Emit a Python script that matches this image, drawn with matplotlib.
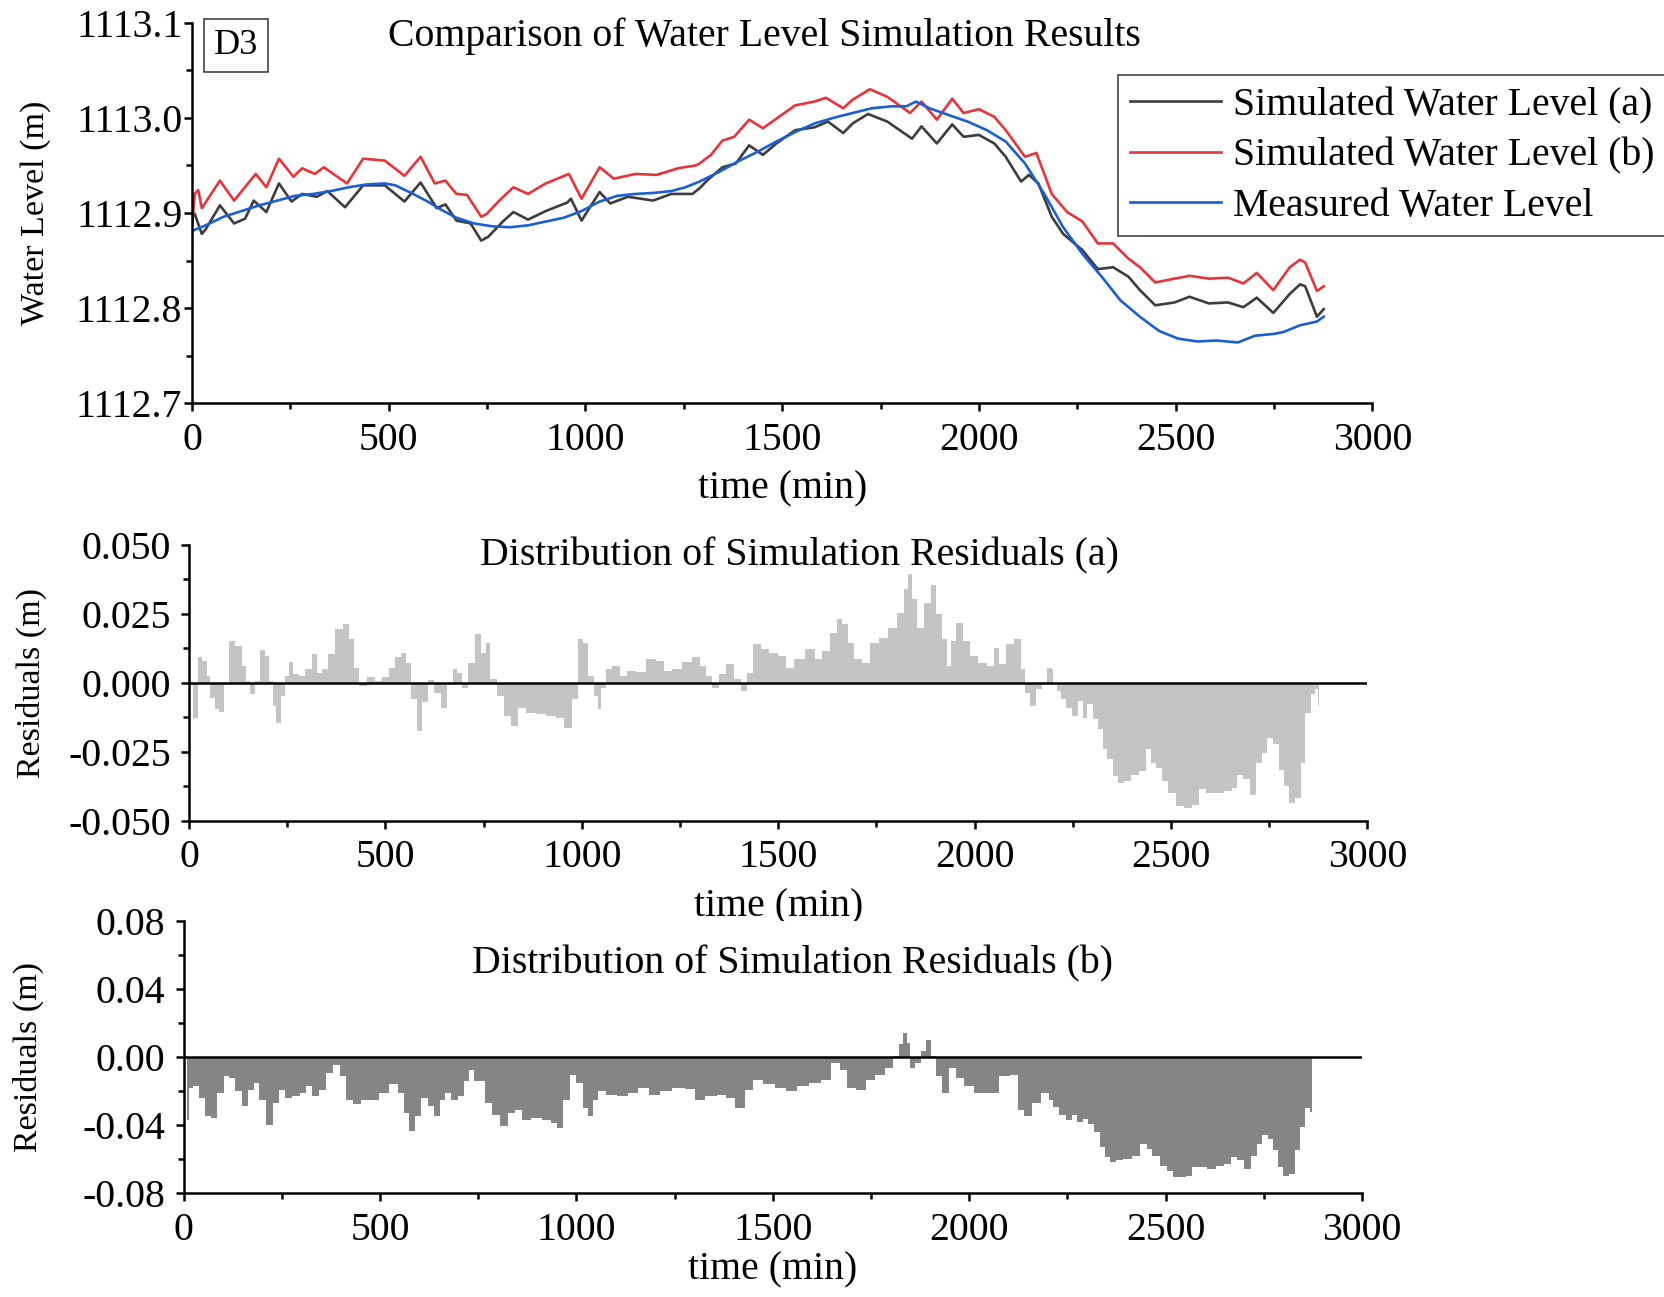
import numpy as np
import matplotlib
matplotlib.use('Agg')
import matplotlib.pyplot as plt
from matplotlib.ticker import MultipleLocator, FormatStrFormatter

plt.rcParams['font.family'] = ['Liberation Serif', 'DejaVu Serif']
plt.rcParams['font.size'] = 28.6
plt.rcParams['axes.unicode_minus'] = False

# ---- water level data ----
t_meas = [0, 35, 80, 126, 171, 217, 262, 308, 353, 399, 444, 490, 517, 562, 599, 635, 672, 717,
          763, 808, 854, 899, 945, 990, 1036, 1081, 1127, 1172, 1218, 1254, 1290, 1339, 1387,
          1436, 1485, 1533, 1582, 1631, 1679, 1728, 1777, 1815, 1840, 1874, 1922, 1971, 2020,
          2068, 2117, 2166, 2214, 2263, 2312, 2360, 2409, 2458, 2506, 2555, 2604, 2658, 2701,
          2750, 2774, 2816, 2859, 2876]
h_meas = [1112.881, 1112.887, 1112.896, 1112.902, 1112.908, 1112.913, 1112.918, 1112.920,
          1112.923, 1112.927, 1112.930, 1112.931, 1112.929, 1112.920, 1112.912, 1112.903,
          1112.895, 1112.889, 1112.886, 1112.885, 1112.887, 1112.891, 1112.895, 1112.902,
          1112.912, 1112.918, 1112.920, 1112.921, 1112.923, 1112.927, 1112.933, 1112.943,
          1112.954, 1112.964, 1112.975, 1112.985, 1112.994, 1113.000, 1113.005, 1113.010,
          1113.012, 1113.012, 1113.017, 1113.010, 1113.003, 1112.996, 1112.987, 1112.975,
          1112.952, 1112.920, 1112.885, 1112.857, 1112.833, 1112.808, 1112.791, 1112.776,
          1112.768, 1112.765, 1112.766, 1112.764, 1112.771, 1112.773, 1112.775, 1112.782,
          1112.786, 1112.791]

t_sim_a = [0, 7, 25, 35, 71, 107, 135, 157, 189, 221, 253, 280, 317, 344, 389, 435, 490, 540,
           581, 622, 644, 672, 708, 735, 753, 790, 817, 854, 899, 954, 963, 990, 1036, 1063,
           1108, 1172, 1218, 1272, 1290, 1309, 1348, 1382, 1416, 1451, 1485, 1533, 1582, 1616,
           1655, 1679, 1718, 1767, 1830, 1854, 1893, 1932, 1961, 2000, 2039, 2068, 2107, 2127,
           2151, 2185, 2214, 2263, 2302, 2341, 2380, 2409, 2448, 2497, 2535, 2584, 2633, 2672,
           2706, 2748, 2790, 2816, 2829, 2859, 2876]
h_sim_a = [1112.895, 1112.899, 1112.878, 1112.883, 1112.908, 1112.889, 1112.894, 1112.913,
           1112.901, 1112.931, 1112.912, 1112.920, 1112.917, 1112.923, 1112.906, 1112.929,
           1112.929, 1112.912, 1112.932, 1112.905, 1112.909, 1112.892, 1112.889, 1112.871,
           1112.875, 1112.891, 1112.901, 1112.893, 1112.902, 1112.911, 1112.915, 1112.892,
           1112.922, 1112.910, 1112.917, 1112.913, 1112.920, 1112.920, 1112.926, 1112.934,
           1112.948, 1112.952, 1112.971, 1112.961, 1112.973, 1112.987, 1112.990, 1112.996,
           1112.984, 1112.994, 1113.004, 1112.996, 1112.978, 1112.991, 1112.973, 1112.993,
           1112.980, 1112.982, 1112.973, 1112.959, 1112.933, 1112.940, 1112.931, 1112.896,
           1112.878, 1112.861, 1112.841, 1112.843, 1112.833, 1112.819, 1112.803, 1112.806,
           1112.812, 1112.805, 1112.806, 1112.801, 1112.811, 1112.795, 1112.815, 1112.825,
           1112.823, 1112.791, 1112.799]

t_sim_b = [0, 7, 16, 25, 71, 107, 162, 189, 221, 258, 280, 312, 335, 394, 435, 490, 540, 581,
           617, 644, 672, 699, 735, 749, 781, 817, 854, 899, 958, 990, 1036, 1072, 1127, 1181,
           1236, 1281, 1290, 1319, 1348, 1378, 1416, 1451, 1485, 1533, 1582, 1611, 1655, 1679,
           1723, 1767, 1825, 1854, 1893, 1932, 1961, 2000, 2039, 2068, 2117, 2146, 2185, 2224,
           2263, 2302, 2341, 2380, 2409, 2448, 2497, 2535, 2584, 2633, 2672, 2706, 2748, 2790,
           2816, 2829, 2859, 2876]
h_sim_b = [1112.885, 1112.920, 1112.924, 1112.905, 1112.934, 1112.913, 1112.941, 1112.927,
           1112.957, 1112.938, 1112.947, 1112.941, 1112.948, 1112.931, 1112.957, 1112.955,
           1112.939, 1112.959, 1112.931, 1112.934, 1112.920, 1112.919, 1112.896, 1112.899,
           1112.913, 1112.927, 1112.920, 1112.931, 1112.941, 1112.915, 1112.948, 1112.936,
           1112.941, 1112.940, 1112.947, 1112.950, 1112.952, 1112.961, 1112.976, 1112.980,
           1112.998, 1112.989, 1112.999, 1113.013, 1113.017, 1113.021, 1113.010, 1113.019,
           1113.030, 1113.022, 1113.005, 1113.017, 1112.998, 1113.020, 1113.005, 1113.009,
           1113.001, 1112.987, 1112.959, 1112.963, 1112.920, 1112.901, 1112.891, 1112.868,
           1112.868, 1112.852, 1112.843, 1112.827, 1112.831, 1112.834, 1112.831, 1112.832,
           1112.826, 1112.837, 1112.819, 1112.843, 1112.851, 1112.848, 1112.818, 1112.823]

# ---- residuals (a) ----
t_res_a = [9, 18, 27, 41, 50, 59, 73, 82, 96, 109, 127, 141, 150, 161, 173, 188, 200, 209, 218,
           226, 241, 250, 259, 273, 287, 305, 319, 332, 346, 364, 382, 400, 414, 425, 441, 464,
           482, 500, 519, 532, 546, 560, 573, 587, 601, 614, 632, 651, 664, 678, 687, 701, 719,
           737, 751, 760, 774, 792, 810, 828, 846, 869, 896, 923, 946, 965, 983, 996, 1010,
           1024, 1037, 1044, 1056, 1069, 1087, 1106, 1124, 1151, 1178, 1201, 1219, 1242, 1269,
           1292, 1310, 1324, 1339, 1359, 1378, 1398, 1412, 1427, 1446, 1466, 1490, 1510, 1529,
           1554, 1583, 1603, 1622, 1642, 1656, 1671, 1686, 1700, 1725, 1744, 1768, 1793, 1812,
           1827, 1835, 1847, 1861, 1881, 1895, 1910, 1925, 1934, 1944, 1962, 1978, 1998, 2022,
           2042, 2056, 2071, 2091, 2110, 2125, 2134, 2147, 2164, 2178, 2190, 2197, 2205, 2214,
           2226, 2239, 2256, 2273, 2281, 2294, 2307, 2324, 2332, 2345, 2358, 2371, 2388, 2409,
           2430, 2445, 2456, 2468, 2485, 2502, 2523, 2544, 2565, 2578, 2599, 2625, 2646, 2663,
           2675, 2692, 2709, 2726, 2739, 2752, 2769, 2781, 2794, 2807, 2824, 2836, 2849, 2862,
           2870, 2877]
r_a = [-0.0133, -0.0127, 0.0091, 0.0079, 0.0024, -0.0054, -0.0097, -0.0106, 0.0, 0.0151,
       0.0133, 0.0060, 0.0006, -0.0042, 0.0006, 0.0118, 0.0097, 0.0006, -0.0085, -0.0145,
       -0.0048, 0.0024, 0.0075, 0.0030, 0.0024, 0.0048, 0.0103, 0.0036, 0.0048, 0.0103,
       0.0193, 0.0211, 0.0157, 0.0054, -0.0014, 0.0022, 0.0006, 0.0022, 0.0054, 0.0091,
       0.0106, 0.0072, -0.0060, -0.0175, -0.0072, 0.0010, -0.0036, -0.0091, -0.0006, 0.0048,
       0.0036, -0.0018, 0.0072, 0.0175, 0.0109, 0.0145, 0.0012, -0.0048, -0.0121, -0.0157,
       -0.0091, -0.0109, -0.0115, -0.0121, -0.0127, -0.0163, -0.0060, 0.0157, 0.0145, 0.0024,
       -0.0048, -0.0097, -0.0018, 0.0048, 0.0060, 0.0024, 0.0042, 0.0039, 0.0085, 0.0079,
       0.0042, 0.0048, 0.0075, 0.0091, 0.0060, 0.0024, -0.0018, 0.0030, 0.0066, 0.0012,
       -0.0030, 0.0036, 0.0139, 0.0121, 0.0109, 0.0097, 0.0054, 0.0085, 0.0121, 0.0085,
       0.0115, 0.0181, 0.0229, 0.0211, 0.0145, 0.0085, 0.0072, 0.0145, 0.0163, 0.0199,
       0.0254, 0.0338, 0.0393, 0.0302, 0.0199, 0.0290, 0.0353, 0.0248, 0.0157, 0.0060,
       0.0151, 0.0215, 0.0151, 0.0097, 0.0072, 0.0060, 0.0127, 0.0066, 0.0139, 0.0157,
       0.0048, -0.0036, -0.0085, -0.0024, -0.0006, 0.0054, 0.0048, 0.0, -0.0030, -0.0061,
       -0.0091, -0.0121, -0.0067, -0.0127, -0.0079, -0.0133, -0.0169, -0.0242, -0.0278,
       -0.0339, -0.0363, -0.0357, -0.0333, -0.0321, -0.0242, -0.0291, -0.0309, -0.0357,
       -0.0400, -0.0448, -0.0454, -0.0442, -0.0387, -0.0400, -0.0400, -0.0393, -0.0381,
       -0.0333, -0.0351, -0.0406, -0.0291, -0.0254, -0.0200, -0.0224, -0.0315, -0.0375,
       -0.0436, -0.0418, -0.0291, -0.0109, -0.0042, -0.0024, -0.0085]

# ---- residuals (b) ----
t_res_b = [9, 18, 32, 45, 64, 77, 95, 109, 123, 141, 156, 173, 186, 200, 218, 236, 250, 268,
           286, 304, 318, 336, 354, 372, 390, 404, 422, 440, 463, 486, 509, 536, 554, 568, 581,
           595, 613, 631, 645, 658, 672, 690, 708, 722, 732, 745, 758, 776, 795, 817, 835, 853,
           872, 899, 926, 944, 958, 976, 990, 1008, 1026, 1035, 1049, 1062, 1090, 1117, 1144,
           1171, 1199, 1226, 1262, 1289, 1314, 1343, 1372, 1392, 1416, 1441, 1460, 1490, 1519,
           1548, 1577, 1607, 1636, 1660, 1680, 1699, 1724, 1748, 1772, 1797, 1816, 1826, 1836,
           1845, 1855, 1870, 1884, 1896, 1907, 1923, 1938, 1958, 1977, 1997, 2026, 2060, 2094,
           2114, 2133, 2148, 2172, 2196, 2208, 2220, 2237, 2254, 2267, 2280, 2297, 2309, 2326,
           2339, 2352, 2364, 2381, 2403, 2424, 2445, 2458, 2475, 2496, 2513, 2526, 2543, 2560,
           2572, 2593, 2619, 2640, 2657, 2674, 2691, 2708, 2725, 2738, 2753, 2767, 2780, 2793,
           2805, 2822, 2835, 2848, 2861, 2873]
r_b = [-0.0367, -0.0180, -0.0171, -0.0239, -0.0347, -0.0357, -0.0210, -0.0112, -0.0122,
       -0.0200, -0.0288, -0.0190, -0.0151, -0.0249, -0.0396, -0.0269, -0.0190, -0.0239,
       -0.0229, -0.0210, -0.0171, -0.0229, -0.0190, -0.0092, -0.0043, -0.0112, -0.0249,
       -0.0273, -0.0249, -0.0253, -0.0210, -0.0155, -0.0210, -0.0327, -0.0435, -0.0347,
       -0.0239, -0.0288, -0.0347, -0.0249, -0.0210, -0.0249, -0.0229, -0.0141, -0.0073,
       -0.0141, -0.0141, -0.0269, -0.0337, -0.0406, -0.0327, -0.0308, -0.0367, -0.0357,
       -0.0367, -0.0386, -0.0416, -0.0249, -0.0102, -0.0151, -0.0298, -0.0347, -0.0249,
       -0.0200, -0.0220, -0.0225, -0.0210, -0.0180, -0.0220, -0.0200, -0.0180, -0.0186,
       -0.0249, -0.0229, -0.0220, -0.0239, -0.0298, -0.0190, -0.0131, -0.0155, -0.0180,
       -0.0200, -0.0171, -0.0151, -0.0131, -0.0033, -0.0073, -0.0180, -0.0190, -0.0131,
       -0.0102, -0.0063, 0.0006, 0.0075, 0.0143, 0.0084, -0.0063, -0.0033, 0.0035, 0.0104,
       0.0006, -0.0112, -0.0210, -0.0063, -0.0122, -0.0171, -0.0210, -0.0210, -0.0112,
       -0.0102, -0.0308, -0.0347, -0.0269, -0.0210, -0.0251, -0.0290, -0.0340, -0.0369,
       -0.0340, -0.0379, -0.0360, -0.0389, -0.0439, -0.0527, -0.0587, -0.0616, -0.0606,
       -0.0597, -0.0577, -0.0508, -0.0537, -0.0577, -0.0636, -0.0666, -0.0705, -0.0705,
       -0.0695, -0.0646, -0.0646, -0.0656, -0.0636, -0.0626, -0.0587, -0.0606, -0.0656,
       -0.0577, -0.0508, -0.0458, -0.0478, -0.0547, -0.0646, -0.0695, -0.0685, -0.0547,
       -0.0409, -0.0300, -0.0320]

fig = plt.figure(figsize=(16.65, 12.97), dpi=100)
YLAB = 24.5


def style_axis(ax, ypad):
    for s in ['top', 'right']:
        ax.spines[s].set_visible(False)
    for s in ['left', 'bottom']:
        ax.spines[s].set_linewidth(1.8)
    ax.tick_params(which='major', direction='out', length=6, width=1.8)
    ax.tick_params(which='minor', direction='out', length=4, width=1.8)
    ax.tick_params(axis='x', which='major', pad=7.5)
    ax.tick_params(axis='y', which='major', pad=ypad)
    ax.set_xlim(0, 3000)
    ax.xaxis.set_major_locator(MultipleLocator(500))
    ax.xaxis.set_minor_locator(MultipleLocator(250))


# top panel: water levels
ax1 = fig.add_axes([0.1153, 0.689, 0.709, 0.2936])
style_axis(ax1, 1)
ax1.plot(t_sim_a, h_sim_a, color='#3d3d3d', lw=1.9, label='Simulated Water Level (a)')
ax1.plot(t_sim_b, h_sim_b, color='#e5343a', lw=1.9, label='Simulated Water Level (b)')
ax1.plot(t_meas, h_meas, color='#1b5fd3', lw=1.9, label='Measured Water Level')
ax1.set_ylim(1112.7, 1113.1)
ax1.yaxis.set_major_locator(MultipleLocator(0.1))
ax1.yaxis.set_minor_locator(MultipleLocator(0.05))
ax1.yaxis.set_major_formatter(FormatStrFormatter('%.1f'))
ax1.set_xlabel('time (min)')
ax1.xaxis.set_label_coords(0.5, -0.177)
ax1.set_ylabel('Water Level (m)', fontsize=YLAB)
ax1.yaxis.set_label_coords(-0.119, 0.5)
ax1.text(0.4845, 0.965, 'Comparison of Water Level Simulation Results',
         transform=ax1.transAxes, ha='center', va='center')
ax1.text(0.0375, 0.94, 'D3', transform=ax1.transAxes, ha='center', va='center',
         fontsize=26, bbox=dict(boxstyle='square,pad=0.27', fc='white', ec='#333333', lw=1.1))
leg = fig.legend(loc='upper left', bbox_to_anchor=(0.6715, 0.942),
                 bbox_transform=fig.transFigure, borderaxespad=0, frameon=True,
                 fancybox=False, edgecolor='#333333', handlelength=2.3, handletextpad=0.3,
                 labelspacing=0.33, borderpad=0.3, framealpha=1)
leg.get_frame().set_linewidth(1.1)

# middle panel: residuals (a)
ax2 = fig.add_axes([0.1135, 0.3673, 0.7077, 0.2128])
style_axis(ax2, 7)
ax2.fill_between(t_res_a, r_a, 0, step='mid', color='#c4c4c4', lw=0)
ax2.axhline(0, color='black', lw=1.8)
ax2.set_ylim(-0.05, 0.05)
ax2.yaxis.set_major_locator(MultipleLocator(0.025))
ax2.yaxis.set_minor_locator(MultipleLocator(0.0125))
ax2.yaxis.set_major_formatter(FormatStrFormatter('%.3f'))
ax2.set_xlabel('time (min)')
ax2.xaxis.set_label_coords(0.5, -0.246)
ax2.set_ylabel('Residuals (m)', fontsize=YLAB)
ax2.yaxis.set_label_coords(-0.1205, 0.5)
ax2.text(0.518, 0.958, 'Distribution of Simulation Residuals (a)',
         transform=ax2.transAxes, ha='center', va='center')

# bottom panel: residuals (b)
ax3 = fig.add_axes([0.1103, 0.0798, 0.7077, 0.2101])
style_axis(ax3, 7)
ax3.fill_between(t_res_b, r_b, 0, step='mid', color='#858585', lw=0)
ax3.axhline(0, color='black', lw=1.8)
ax3.set_ylim(-0.08, 0.08)
ax3.yaxis.set_major_locator(MultipleLocator(0.04))
ax3.yaxis.set_minor_locator(MultipleLocator(0.02))
ax3.yaxis.set_major_formatter(FormatStrFormatter('%.2f'))
ax3.set_xlabel('time (min)')
ax3.xaxis.set_label_coords(0.5, -0.213)
ax3.set_ylabel('Residuals (m)', fontsize=YLAB)
ax3.yaxis.set_label_coords(-0.1186, 0.5)
ax3.text(0.517, 0.843, 'Distribution of Simulation Residuals (b)',
         transform=ax3.transAxes, ha='center', va='center')

fig.savefig('out.png', dpi=100)
